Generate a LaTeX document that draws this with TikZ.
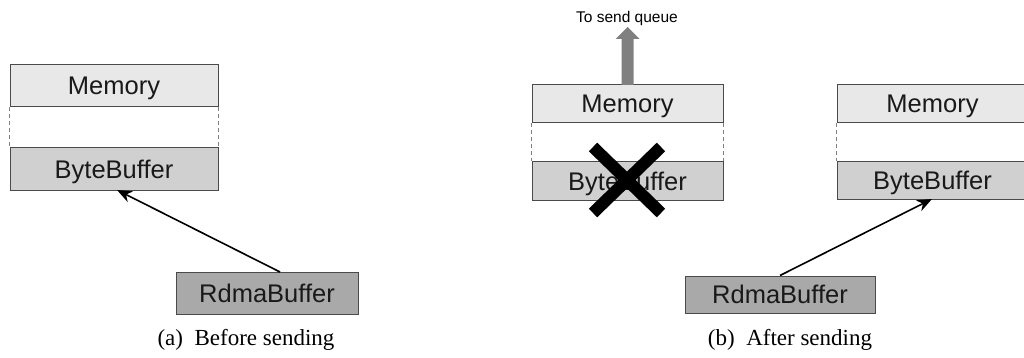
\documentclass[tikz,border=0pt]{standalone}
\usepackage{fontspec}
\setmainfont{Liberation Serif}
\setsansfont{Liberation Sans}
\usetikzlibrary{arrows.meta,calc}
\definecolor{memfill}{HTML}{E8E8E8}
\definecolor{bytefill}{HTML}{D0D0D0}
\definecolor{rdmafill}{HTML}{A9A9A9}
\definecolor{edge}{HTML}{4A4A4A}
\tikzset{
  buf/.style={draw=edge, line width=1pt, inner sep=0pt, text depth=0pt,
    font=\sffamily\fontsize{25.5}{30}\selectfont, text=black!90},
  membox/.style={buf, fill=memfill},
  bytebox/.style={buf, fill=bytefill},
  rdmabox/.style={buf, fill=rdmafill},
  link/.style={draw=gray, line width=0.9pt, dash pattern=on 4pt off 3pt},
  refer/.style={draw=black, line width=1.6pt, -{Stealth[length=15pt,width=12pt]}},
  caption/.style={font=\fontsize{23}{28}\selectfont}
}
\begin{document}
\begin{tikzpicture}[x=1pt,y=-1pt]
\useasboundingbox (0,0) rectangle (1024,358);

% (a) before sending
\node[membox, minimum width=208pt, minimum height=42pt] (memA) at (114,86) {Memory};
\node[bytebox, minimum width=208pt, minimum height=42pt] (byteA) at (114,169) {ByteBuffer};
\node[rdmabox, minimum width=182pt, minimum height=42pt] (rdmaA) at (267,293) {RdmaBuffer};
\draw[link] (memA.south west) -- (byteA.north west);
\draw[link] (memA.south east) -- (byteA.north east);
\coordinate (tailA) at (280,272);
\coordinate (tipA) at (117,190);
\draw[refer] (tailA) -- (tipA);
\node[caption] (capA) at (246,340) {(a)\ \ Before sending};

% (b) after sending: the old buffer pair
\node[membox, minimum width=191pt, minimum height=38pt] (memB) at (627.5,104) {Memory};
\node[bytebox, minimum width=191pt, minimum height=38pt] (byteB) at (627.5,181) {ByteBuffer};
\draw[link] (memB.south west) -- (byteB.north west);
\draw[link] (memB.south east) -- (byteB.north east);
\node[inner sep=0pt, font=\sffamily\fontsize{15.5}{18}\selectfont] (queue) at (627,18) {To send queue};
\coordinate (qtail) at (627.5,85);
\coordinate (qhead) at (627.5,27);
\fill[gray] (qtail) ++(-6,0) -- ++(0,-46) -- ++(-6,0) -- (qhead) -- ++(12,12) -- ++(-6,0) -- ++(0,46) -- cycle;
% discarded buffer
\coordinate (xc) at (627,180);
\draw[line width=12pt, black] ($(xc)+(-34,-33)$) -- ($(xc)+(34,33)$);
\draw[line width=12pt, black] ($(xc)+(34,-33)$) -- ($(xc)+(-34,33)$);

% (b) after sending: the new buffer pair
\node[membox, minimum width=191pt, minimum height=38pt] (memC) at (932.5,104) {Memory};
\node[bytebox, minimum width=191pt, minimum height=38pt] (byteC) at (932.5,180.5) {ByteBuffer};
\node[rdmabox, minimum width=190pt, minimum height=37pt] (rdmaC) at (780,294.5) {RdmaBuffer};
\draw[link] (memC.south west) -- (byteC.north west);
\draw[link] (memC.south east) -- (byteC.north east);
\coordinate (tipC) at (932,199);
\draw[refer] (rdmaC.north) -- (tipC);
\node[caption] (capB) at (790,340) {(b)\ \ After sending};
\end{tikzpicture}
\end{document}
